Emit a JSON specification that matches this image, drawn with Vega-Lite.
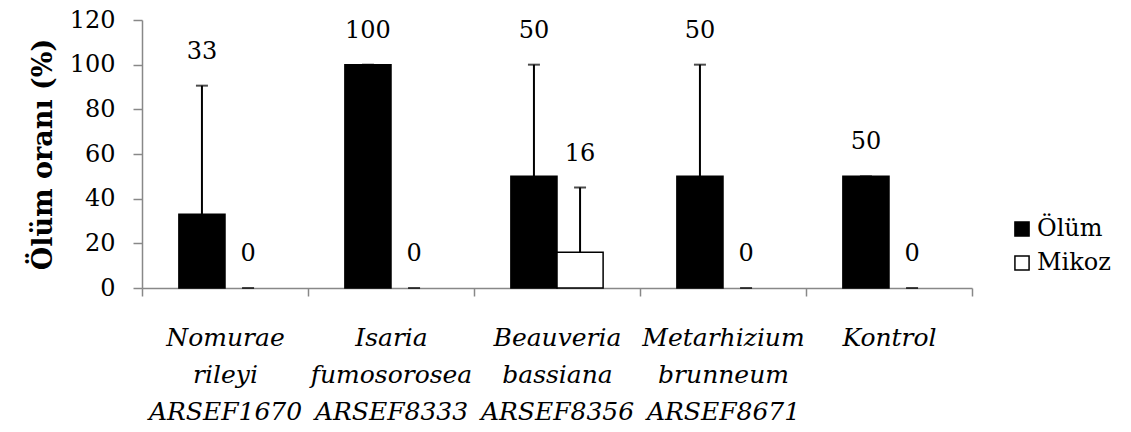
{
  "$schema": "https://vega.github.io/schema/vega-lite/v6.json",
  "width": 830,
  "height": 268,
  "autosize": {"type": "none"},
  "padding": {"left": 142, "top": 20, "right": 159, "bottom": 144},
  "background": "white",
  "config": {
    "view": {"stroke": null},
    "font": "DejaVu Serif",
    "text": {"font": "DejaVu Serif"},
    "axis": {"labelFont": "DejaVu Serif", "titleFont": "DejaVu Serif"},
    "legend": {"labelFont": "DejaVu Serif"}
  },
  "data": {
    "values": [
      {"cat": "Nomurae|rileyi|ARSEF1670", "series": "Ölüm", "val": 33, "hi": 90.6},
      {"cat": "Nomurae|rileyi|ARSEF1670", "series": "Mikoz", "val": 0, "hi": 0},
      {"cat": "Isaria|fumosorosea|ARSEF8333", "series": "Ölüm", "val": 100, "hi": 100},
      {"cat": "Isaria|fumosorosea|ARSEF8333", "series": "Mikoz", "val": 0, "hi": 0},
      {"cat": "Beauveria|bassiana|ARSEF8356", "series": "Ölüm", "val": 50, "hi": 100},
      {"cat": "Beauveria|bassiana|ARSEF8356", "series": "Mikoz", "val": 16, "hi": 45},
      {"cat": "Metarhizium|brunneum|ARSEF8671", "series": "Ölüm", "val": 50, "hi": 100},
      {"cat": "Metarhizium|brunneum|ARSEF8671", "series": "Mikoz", "val": 0, "hi": 0},
      {"cat": "Kontrol", "series": "Ölüm", "val": 50, "hi": 50},
      {"cat": "Kontrol", "series": "Mikoz", "val": 0, "hi": 0}
    ]
  },
  "encoding": {
    "x": {
      "field": "cat",
      "type": "nominal",
      "sort": null,
      "scale": {"paddingInner": 0, "paddingOuter": 0},
      "axis": {
        "title": null,
        "labelAngle": 0,
        "labelExpr": "datum.value ? split(datum.value, '|') : ''",
        "labelFontStyle": "italic",
        "labelFontSize": 25,
        "labelColor": "black",
        "labelLineHeight": 37,
        "labelPadding": 29,
        "tickBand": "extent",
        "tickSize": 8,
        "tickColor": "#888888",
        "domainColor": "#888888",
        "tickWidth": 1.5,
        "domainWidth": 1.5
      }
    },
    "xOffset": {
      "field": "series",
      "type": "nominal",
      "sort": ["Ölüm", "Mikoz"],
      "scale": {"paddingInner": 0, "paddingOuter": 0.8}
    }
  },
  "layer": [
    {
      "mark": {"type": "bar", "stroke": "black", "strokeWidth": 1.5},
      "encoding": {
        "y": {
          "field": "val",
          "type": "quantitative",
          "scale": {"domain": [0, 120], "nice": false},
          "axis": {
            "title": "Ölüm oranı (%)",
            "values": [0, 20, 40, 60, 80, 100, 120],
            "grid": false,
            "labelFontSize": 24,
            "labelColor": "black",
            "labelPadding": 18,
            "tickSize": 9,
            "tickColor": "#888888",
            "domainColor": "#888888",
            "tickWidth": 1.5,
            "domainWidth": 1.5,
            "titleFontSize": 27,
            "titleFontWeight": "bold",
            "titleColor": "black",
            "titlePadding": 12
          }
        },
        "fill": {
          "field": "series",
          "type": "nominal",
          "scale": {"domain": ["Ölüm", "Mikoz"], "range": ["black", "white"]},
          "legend": {
            "title": null,
            "orient": "none",
            "legendX": 868,
            "legendY": 197,
            "symbolType": "square",
            "symbolSize": 200,
            "symbolStrokeColor": "black",
            "symbolStrokeWidth": 1.5,
            "labelFontSize": 24,
            "labelColor": "black",
            "labelOffset": 3,
            "rowPadding": 10
          }
        },
        "strokeOpacity": {"condition": {"test": "datum.val == 0", "value": 0}, "value": 1}
      }
    },
    {
      "mark": {"type": "rule", "color": "black", "strokeWidth": 2},
      "encoding": {
        "y": {"field": "val", "type": "quantitative"},
        "y2": {"field": "hi"}
      }
    },
    {
      "mark": {"type": "tick", "color": "black", "thickness": 2, "size": 12, "orient": "horizontal"},
      "encoding": {
        "y": {"field": "hi", "type": "quantitative"}
      }
    },
    {
      "mark": {"type": "text", "fontSize": 24, "color": "black", "baseline": "bottom", "dy": -22},
      "encoding": {
        "y": {"field": "hi", "type": "quantitative"},
        "text": {"field": "val", "type": "quantitative"}
      }
    }
  ]
}
